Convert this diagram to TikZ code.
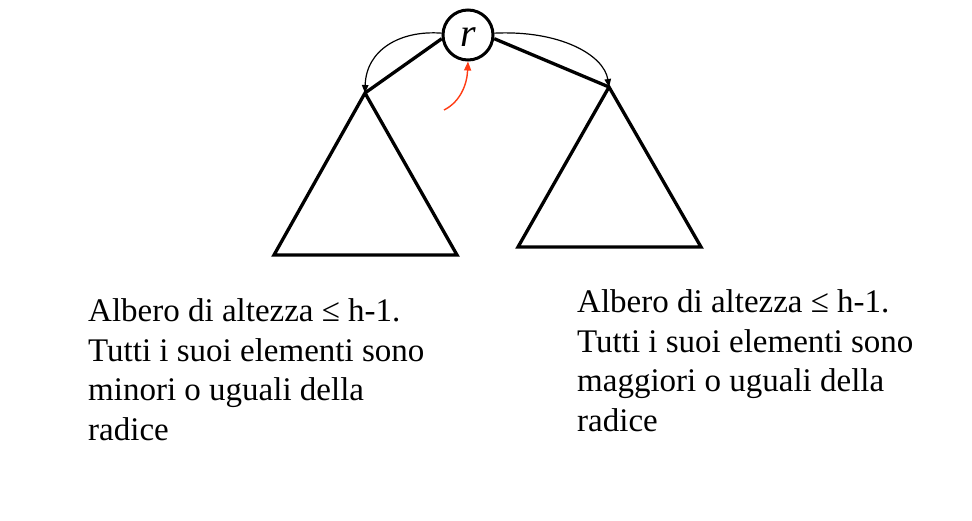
\documentclass[tikz,border=0pt]{standalone}
\usepackage{fontspec}
\setmainfont{Liberation Serif}
\usetikzlibrary{arrows.meta}
\begin{document}
\begin{tikzpicture}[x=1pt,y=-1pt,
  thickline/.style={line width=3.3pt},
  thinarrow/.style={line width=1.2pt,-{Triangle[length=8pt,width=6.5pt]}},
  redarrow/.style={line width=1.4pt,draw={rgb,255:red,255;green,60;blue,20},-{Triangle[length=9pt,width=7pt]}},
  label/.style={anchor=base west,align=left,font=\fontsize{33}{39.5}\selectfont,inner sep=0pt}]
\useasboundingbox (0,0) rectangle (972,520);
\node[circle,draw,line width=3pt,minimum size=50pt,inner sep=0pt,font=\fontsize{40}{40}\selectfont\itshape] (r) at (468,35) {\raisebox{-11pt}[0pt][0pt]{r}};
\coordinate (la) at (365,93);
\coordinate (lb) at (274,255);
\coordinate (lc) at (457,255);
\coordinate (ra) at (609,87);
\coordinate (rb) at (518,247);
\coordinate (rc) at (701,247);
\draw[thickline,line join=miter] (la) -- (lb) -- (lc) -- cycle;
\draw[thickline,line join=miter] (ra) -- (rb) -- (rc) -- cycle;
\draw[thickline] (r.188) -- (la);
\draw[thickline] (r.-8) -- (ra);
\draw[thinarrow] (r.176) .. controls (400,30) and (366,50) .. (la);
\draw[thinarrow] (r.4) .. controls (560,30) and (604,55) .. (ra);
\coordinate (rs) at (444,110);
\draw[redarrow] (rs) .. controls (460,102) and (467,85) .. (r.south);
\node[label] (t1) at (88,440) {Albero di altezza ≤ h-1.\\Tutti i suoi elementi sono\\minori o uguali della\\radice};
\node[label] (t2) at (577,431) {Albero di altezza ≤ h-1.\\Tutti i suoi elementi sono\\maggiori o uguali della\\radice};
\end{tikzpicture}
\end{document}
